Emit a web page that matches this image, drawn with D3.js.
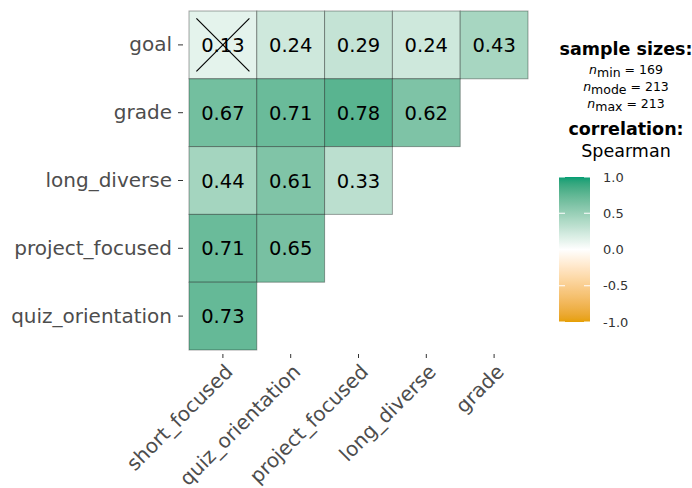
<!DOCTYPE html>
<html><head><meta charset="utf-8">
<script src="https://cdn.jsdelivr.net/npm/d3@7"></script>
<style>body{margin:0;background:#fff}svg{display:block}text{font-family:"DejaVu Sans",sans-serif}</style>
</head><body><svg id="c" width="692" height="488"></svg>
<script>
const xVars = ["short_focused","quiz_orientation","project_focused","long_diverse","grade"];
const yVars = ["goal","grade","long_diverse","project_focused","quiz_orientation"];
const rGoal = [0.13,0.24,0.29,0.24,0.43];
const rGrade = [0.67,0.71,0.78,0.62];
const rLongDiverse = [0.44,0.61,0.33];
const rProjectFocused = [0.71,0.65];
const rQuizOrientation = [0.73];
const nonSignificant = [["goal","short_focused"]];
const legendTicks = [1.0,0.5,0.0,-0.5,-1.0];
const sampleSizes = [["min",169],["mode",213],["max",213]];

const rows = [rGoal,rGrade,rLongDiverse,rProjectFocused,rQuizOrientation];
const cells = [];
rows.forEach((vals,i)=>vals.forEach((v,j)=>cells.push({y:yVars[i],x:xVars[j],r:v})));

const svg = d3.select("#c");
const x = d3.scaleBand().domain(xVars).range([189,528]);
const y = d3.scaleBand().domain(yVars).range([11,350]);
const color = d3.scaleLinear().domain([-1,0,1]).range(["#E69F00","#ffffff","#009E73"]).interpolate(d3.interpolateLab);

svg.append("g").selectAll("rect").data(cells).join("rect")
  .attr("x",d=>x(d.x)).attr("y",d=>y(d.y))
  .attr("width",x.bandwidth()).attr("height",y.bandwidth())
  .attr("fill",d=>color(d.r)).attr("stroke","rgba(0,0,0,0.35)").attr("stroke-width",1);

svg.append("g").selectAll("text").data(cells).join("text")
  .attr("x",d=>x(d.x)+x.bandwidth()/2).attr("y",d=>y(d.y)+y.bandwidth()/2)
  .attr("text-anchor","middle").attr("dy","0.36em")
  .attr("font-size",19.5).attr("fill","#000").text(d=>d.r.toFixed(2));

const cr = 26.5;
nonSignificant.forEach(([yy,xx])=>{
  const cx = x(xx)+x.bandwidth()/2, cy = y(yy)+y.bandwidth()/2;
  svg.append("line").attr("x1",cx-cr).attr("y1",cy-cr).attr("x2",cx+cr).attr("y2",cy+cr).attr("stroke","#000").attr("stroke-width",1.1);
  svg.append("line").attr("x1",cx-cr).attr("y1",cy+cr).attr("x2",cx+cr).attr("y2",cy-cr).attr("stroke","#000").attr("stroke-width",1.1);
});

// Y axis
const yAxis = svg.append("g").attr("transform","translate(189,0)")
  .call(d3.axisLeft(y).tickSize(5).tickPadding(4));
yAxis.select(".domain").remove();
yAxis.selectAll(".tick line").attr("stroke","#333").attr("transform","translate(-6,0)");
yAxis.selectAll(".tick text").attr("font-size",20).attr("fill","#4d4d4d").attr("font-family","DejaVu Sans").attr("dx","-8");

// X axis
const xAxis = svg.append("g").attr("transform","translate(0,350)")
  .call(d3.axisBottom(x).tickSize(4).tickPadding(4));
xAxis.select(".domain").remove();
xAxis.selectAll(".tick line").attr("stroke","#333").attr("transform","translate(0,4)");
xAxis.selectAll(".tick text").attr("font-size",20).attr("fill","#4d4d4d").attr("font-family","DejaVu Sans")
  .attr("text-anchor","end").attr("dy",null).attr("y",0)
  .attr("transform","translate(11,23) rotate(-45)");

// Legend header
const lx = 626;
svg.append("text").attr("x",lx).attr("y",55).attr("text-anchor","middle").attr("font-size",17.5).attr("font-weight","bold").text("sample sizes:");
sampleSizes.forEach(([k,v],i)=>{
  const t = svg.append("text").attr("x",lx).attr("y",74+i*17).attr("text-anchor","middle").attr("font-size",12.5).attr("fill","#000");
  t.append("tspan").attr("font-style","italic").text("n");
  t.append("tspan").attr("dy",3).text(k);
  t.append("tspan").attr("dy",-3).text(" = "+v);
});
svg.append("text").attr("x",lx).attr("y",135).attr("text-anchor","middle").attr("font-size",17.5).attr("font-weight","bold").text("correlation:");
svg.append("text").attr("x",lx).attr("y",157).attr("text-anchor","middle").attr("font-size",17.5).text("Spearman");

// Colorbar
const cb = d3.scaleLinear().domain([1,-1]).range([177,322]);
const defs = svg.append("defs");
const grad = defs.append("linearGradient").attr("id","g").attr("x1",0).attr("y1",0).attr("x2",0).attr("y2",1);
d3.range(0,101).forEach(i=>{const v=1-2*i/100; grad.append("stop").attr("offset",i+"%").attr("stop-color",color(v));});
svg.append("rect").attr("x",559).attr("y",cb(1)).attr("width",31).attr("height",cb(-1)-cb(1)).attr("fill","url(#g)");
legendTicks.forEach(v=>{
  svg.append("line").attr("x1",559).attr("x2",565).attr("y1",cb(v)).attr("y2",cb(v)).attr("stroke","#fff").attr("stroke-width",1);
  svg.append("line").attr("x1",584).attr("x2",590).attr("y1",cb(v)).attr("y2",cb(v)).attr("stroke","#fff").attr("stroke-width",1);
  svg.append("text").attr("x",603).attr("y",cb(v)).attr("dy","0.36em").attr("font-size",13).attr("fill","#333").text(v.toFixed(1));
});
</script></body></html>
